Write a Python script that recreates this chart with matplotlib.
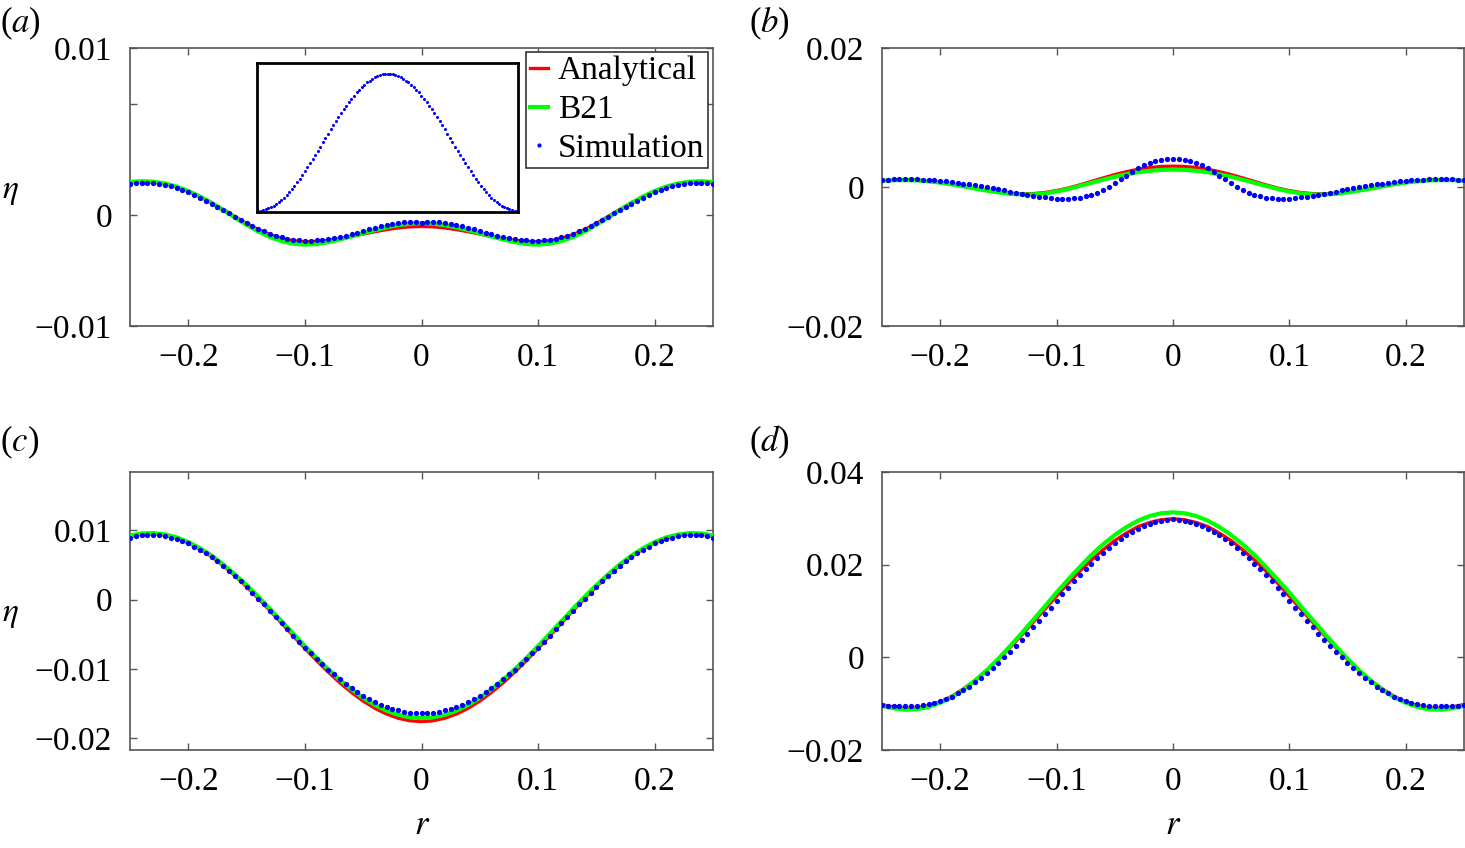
import numpy as np
import matplotlib
matplotlib.use("Agg")
import matplotlib.pyplot as plt

plt.rcParams['font.family'] = ['Liberation Serif', 'DejaVu Serif']
plt.rcParams['mathtext.fontset'] = 'stix'

# r grids (lines every 0.01, simulation every 0.005)
r_line = np.linspace(-0.25, 0.25, 51)
r_sim = np.linspace(-0.25, 0.25, 101)

# values below are in units of 1e-3
a_red = [2.95, 3.00, 2.95, 2.78, 2.50, 2.12, 1.64, 1.08, 0.47, -0.16, -0.77, -1.32, -1.78, -2.12, -2.33, -2.42, -2.40, -2.30, -2.13, -1.94, -1.73, -1.52, -1.33, -1.18, -1.08,
         -1.05,
         -1.08, -1.18, -1.33, -1.52, -1.73, -1.94, -2.13, -2.30, -2.40, -2.42, -2.33, -2.12, -1.78, -1.32, -0.77, -0.16, 0.47, 1.08, 1.64, 2.12, 2.50, 2.78, 2.95, 3.00, 2.95]
a_green = [2.95, 3.02, 2.98, 2.82, 2.54, 2.14, 1.64, 1.06, 0.42, -0.25, -0.90, -1.50, -2.00, -2.37, -2.60, -2.68, -2.63, -2.46, -2.22, -1.95, -1.66, -1.38, -1.13, -0.93, -0.80,
           -0.75,
           -0.80, -0.93, -1.13, -1.38, -1.66, -1.95, -2.22, -2.46, -2.63, -2.68, -2.60, -2.37, -2.00, -1.50, -0.90, -0.25, 0.42, 1.06, 1.64, 2.14, 2.54, 2.82, 2.98, 3.02, 2.95]
a_sim = [2.76, 2.82, 2.86, 2.88, 2.86, 2.80, 2.70, 2.57, 2.42, 2.23, 2.03, 1.80, 1.55, 1.28, 1.00, 0.72, 0.42, 0.12, -0.18, -0.47,
         -0.75, -1.02, -1.27, -1.50, -1.70, -1.88, -2.03, -2.15, -2.24, -2.30, -2.32, -2.32, -2.30, -2.26, -2.20, -2.12, -2.02, -1.90, -1.75, -1.60,
         -1.45, -1.30, -1.15, -1.02, -0.92, -0.82, -0.75, -0.68, -0.62, -0.65,
         -0.70,
         -0.65, -0.62, -0.68, -0.75, -0.82, -0.92, -1.02, -1.15, -1.30, -1.45, -1.60, -1.75, -1.90, -2.02, -2.12, -2.20, -2.26, -2.30, -2.32, -2.32,
         -2.30, -2.24, -2.15, -2.03, -1.88, -1.70, -1.50, -1.27, -1.02, -0.75, -0.47, -0.18, 0.12, 0.42, 0.72, 1.00, 1.28, 1.55, 1.80, 2.03,
         2.23, 2.42, 2.57, 2.70, 2.80, 2.86, 2.88, 2.86, 2.82, 2.76]

b_red = [0.90, 1.00, 1.03, 0.98, 0.85, 0.65, 0.40, 0.10, -0.20, -0.48, -0.72, -0.90, -0.98, -0.95, -0.80, -0.52, -0.15, 0.30, 0.80, 1.30, 1.78, 2.20, 2.55, 2.80, 2.95,
         3.00,
         2.95, 2.80, 2.55, 2.20, 1.78, 1.30, 0.80, 0.30, -0.15, -0.52, -0.80, -0.95, -0.98, -0.90, -0.72, -0.48, -0.20, 0.10, 0.40, 0.65, 0.85, 0.98, 1.03, 1.00, 0.90]
b_green = [0.90, 0.98, 1.00, 0.95, 0.82, 0.63, 0.38, 0.09, -0.22, -0.52, -0.78, -0.98, -1.08, -1.07, -0.92, -0.65, -0.28, 0.15, 0.60, 1.05, 1.47, 1.83, 2.12, 2.33, 2.46,
           2.50,
           2.46, 2.33, 2.12, 1.83, 1.47, 1.05, 0.60, 0.15, -0.28, -0.65, -0.92, -1.07, -1.08, -0.98, -0.78, -0.52, -0.22, 0.09, 0.38, 0.63, 0.82, 0.95, 1.00, 0.98, 0.90]
b_sim = [1.02, 1.06, 1.09, 1.11, 1.12, 1.12, 1.10, 1.07, 1.02, 0.95, 0.88, 0.80, 0.70, 0.60, 0.48, 0.36, 0.23, 0.10, -0.05, -0.20,
         -0.35, -0.50, -0.65, -0.80, -0.95, -1.10, -1.25, -1.38, -1.50, -1.60, -1.67, -1.70, -1.68, -1.63, -1.52, -1.35, -1.10, -0.80, -0.40, 0.05,
         0.55, 1.10, 1.65, 2.20, 2.72, 3.15, 3.50, 3.75, 3.90, 3.98,
         4.00,
         3.98, 3.90, 3.75, 3.50, 3.15, 2.72, 2.20, 1.65, 1.10, 0.55, 0.05, -0.40, -0.80, -1.10, -1.35, -1.52, -1.63, -1.68, -1.70, -1.67,
         -1.60, -1.50, -1.38, -1.25, -1.10, -0.95, -0.80, -0.65, -0.50, -0.35, -0.20, -0.05, 0.10, 0.23, 0.36, 0.48, 0.60, 0.70, 0.80, 0.88,
         0.95, 1.02, 1.07, 1.10, 1.12, 1.12, 1.11, 1.09, 1.06, 1.02]

c_red = [9.10, 9.44, 9.49, 9.29, 8.86, 8.19, 7.28, 6.18, 4.89, 3.44, 1.86, 0.17, -1.60, -3.41, -5.24, -7.04, -8.79, -10.45, -12.01, -13.40, -14.64, -15.68, -16.51, -17.11, -17.48,
         -17.60,
         -17.48, -17.11, -16.51, -15.68, -14.64, -13.40, -12.01, -10.45, -8.79, -7.04, -5.24, -3.41, -1.60, 0.17, 1.86, 3.44, 4.89, 6.18, 7.28, 8.19, 8.86, 9.29, 9.49, 9.44, 9.10]
c_green = [9.25, 9.54, 9.59, 9.39, 8.97, 8.30, 7.41, 6.33, 5.06, 3.63, 2.07, 0.41, -1.33, -3.12, -4.92, -6.70, -8.42, -10.05, -11.59, -12.96, -14.18, -15.20, -16.02, -16.62, -16.98,
           -17.10,
           -16.98, -16.62, -16.02, -15.20, -14.18, -12.96, -11.59, -10.05, -8.42, -6.70, -4.92, -3.12, -1.33, 0.41, 2.07, 3.63, 5.06, 6.33, 7.41, 8.30, 8.97, 9.39, 9.59, 9.54, 9.25]
c_sim = [8.90, 9.15, 9.30, 9.35, 9.35, 9.25, 9.15, 8.95, 8.75, 8.45, 8.10, 7.65, 7.20, 6.65, 6.10, 5.50, 4.85, 4.15, 3.40, 2.65,
         1.85, 1.00, 0.15, -0.70, -1.60, -2.50, -3.40, -4.30, -5.20, -6.10, -6.95, -7.75, -8.60, -9.35, -10.10, -10.80, -11.50, -12.15, -12.80, -13.35,
         -13.90, -14.35, -14.80, -15.15, -15.50, -15.75, -16.00, -16.15, -16.30, -16.35,
         -16.40,
         -16.35, -16.30, -16.15, -16.00, -15.75, -15.50, -15.15, -14.80, -14.35, -13.90, -13.35, -12.80, -12.15, -11.50, -10.80, -10.10, -9.35, -8.60, -7.75, -6.95,
         -6.10, -5.20, -4.30, -3.40, -2.50, -1.60, -0.70, 0.15, 1.00, 1.85, 2.65, 3.40, 4.15, 4.85, 5.50, 6.10, 6.65, 7.20, 7.65, 8.10,
         8.45, 8.75, 8.95, 9.15, 9.25, 9.35, 9.35, 9.30, 9.15, 8.90]

d_red = [-10.20, -10.70, -11.00, -10.90, -10.40, -9.60, -8.40, -6.80, -4.97, -2.80, -0.45, 2.10, 4.80, 7.60, 10.40, 13.20, 16.00, 18.60, 21.00, 23.20, 25.20, 26.80, 28.20, 29.10, 29.70,
         29.90,
         29.70, 29.10, 28.20, 26.80, 25.20, 23.20, 21.00, 18.60, 16.00, 13.20, 10.40, 7.60, 4.80, 2.10, -0.45, -2.80, -4.97, -6.80, -8.40, -9.60, -10.40, -10.90, -11.00, -10.70, -10.20]
d_green = [-10.50, -11.00, -11.30, -11.20, -10.70, -9.80, -8.60, -7.00, -5.00, -2.80, -0.30, 2.40, 5.20, 8.10, 11.00, 14.00, 16.80, 19.50, 22.10, 24.40, 26.40, 28.10, 29.50, 30.50, 31.10,
           31.30,
           31.10, 30.50, 29.50, 28.10, 26.40, 24.40, 22.10, 19.50, 16.80, 14.00, 11.00, 8.10, 5.20, 2.40, -0.30, -2.80, -5.00, -7.00, -8.60, -9.80, -10.70, -11.20, -11.30, -11.00, -10.50]
d_sim = [-10.30, -10.40, -10.40, -10.50, -10.50, -10.50, -10.40, -10.30, -10.10, -9.80, -9.50, -9.00, -8.50, -7.80, -7.10, -6.30, -5.40, -4.40, -3.40, -2.30,
         -1.20, 0.00, 1.20, 2.50, 3.80, 5.10, 6.50, 7.90, 9.30, 10.70, 12.10, 13.60, 15.00, 16.40, 17.70, 19.00, 20.20, 21.40, 22.60, 23.60,
         24.60, 25.50, 26.30, 27.10, 27.80, 28.30, 28.80, 29.20, 29.50, 29.70,
         29.80,
         29.70, 29.50, 29.20, 28.80, 28.30, 27.80, 27.10, 26.30, 25.50, 24.60, 23.60, 22.60, 21.40, 20.20, 19.00, 17.70, 16.40, 15.00, 13.60, 12.10,
         10.70, 9.30, 7.90, 6.50, 5.10, 3.80, 2.50, 1.20, 0.00, -1.20, -2.30, -3.40, -4.40, -5.40, -6.30, -7.10, -7.80, -8.50, -9.00, -9.50,
         -9.80, -10.10, -10.30, -10.40, -10.50, -10.50, -10.50, -10.40, -10.40, -10.30]

# inset profile of panel (a), normalised
inset_sim = [0.000, 0.001, 0.004, 0.009, 0.016, 0.024, 0.035, 0.048, 0.062, 0.078, 0.095, 0.115, 0.136, 0.158, 0.181, 0.206, 0.232, 0.259, 0.287, 0.316,
             0.345, 0.376, 0.406, 0.437, 0.469, 0.500, 0.531, 0.563, 0.594, 0.624, 0.655, 0.684, 0.713, 0.741, 0.768, 0.794, 0.819, 0.842, 0.865, 0.885,
             0.905, 0.922, 0.938, 0.952, 0.965, 0.976, 0.984, 0.991, 0.996, 0.999,
             1.000,
             0.999, 0.996, 0.991, 0.984, 0.976, 0.965, 0.952, 0.938, 0.922, 0.905, 0.885, 0.865, 0.842, 0.819, 0.794, 0.768, 0.741, 0.713, 0.684, 0.655,
             0.624, 0.594, 0.563, 0.531, 0.500, 0.469, 0.437, 0.406, 0.376, 0.345, 0.316, 0.287, 0.259, 0.232, 0.206, 0.181, 0.158, 0.136, 0.115, 0.095,
             0.078, 0.062, 0.048, 0.035, 0.024, 0.016, 0.009, 0.004, 0.001, 0.000]

xticks = [-0.2, -0.1, 0, 0.1, 0.2]
xticklabels = ['\u22120.2', '\u22120.1', '0', '0.1', '0.2']

FS = 24
SPINE = '#555555'

fig = plt.figure(figsize=(14.65, 8.48), dpi=100)
w, h = 583 / 1465, 278 / 848
ax_a = fig.add_axes([130 / 1465, 1 - 326 / 848, w, h])
ax_b = fig.add_axes([882 / 1465, 1 - 326 / 848, w * 0.998, h])
ax_c = fig.add_axes([130 / 1465, 1 - 750 / 848, w, h])
ax_d = fig.add_axes([882 / 1465, 1 - 750 / 848, w * 0.998, h])

panels = [
    (ax_a, a_red, a_green, a_sim, (-0.01, 0.015), [-0.01, 0, 0.01, 0.015], ['\u22120.01', '0', '', '0.01']),
    (ax_b, b_red, b_green, b_sim, (-0.02, 0.02), [-0.02, 0, 0.02], ['\u22120.02', '0', '0.02']),
    (ax_c, c_red, c_green, c_sim, (-0.0217, 0.0184), [-0.02, -0.01, 0, 0.01], ['\u22120.02', '\u22120.01', '0', '0.01']),
    (ax_d, d_red, d_green, d_sim, (-0.02, 0.04), [-0.02, 0, 0.02, 0.04], ['\u22120.02', '0', '0.02', '0.04']),
]

for ax, red, green, sim, ylim, yt, ytl in panels:
    ax.plot(r_line, np.array(red) * 1e-3, color='#ff0000', lw=2.4, label='Analytical', zorder=2)
    ax.plot(r_line, np.array(green) * 1e-3, color='#00ff00', lw=3.0, label='B21', zorder=3)
    ax.plot(r_sim, np.array(sim) * 1e-3, 'o', color='#0000ff', ms=3.8, mew=0,
            label='Simulation', zorder=4)
    ax.set_xlim(-0.25, 0.25)
    ax.set_ylim(*ylim)
    ax.set_xticks(xticks)
    ax.set_xticklabels(xticklabels)
    ax.set_yticks(yt)
    ax.set_yticklabels(ytl)
    ax.tick_params(direction='in', top=True, right=True, length=5, width=1.0,
                   color=SPINE, labelsize=FS)
    ax.tick_params(axis='x', pad=12)
    ax.tick_params(axis='y', pad=13)
    for s in ax.spines.values():
        s.set_color(SPINE)
        s.set_linewidth(1.2)

# legend in (a)
leg = ax_a.legend(loc='upper right', bbox_to_anchor=(0.992, 0.986), fontsize=FS,
                  frameon=True, fancybox=False, edgecolor='#333333', framealpha=1,
                  borderpad=0.12, handlelength=0.55, handletextpad=0.3,
                  labelspacing=0.25, borderaxespad=0, numpoints=1, markerscale=0.8)
leg.get_frame().set_linewidth(1.2)

# inset in (a)
ins = ax_a.inset_axes([0.218, 0.41, 0.448, 0.536])
ins.plot(r_sim, inset_sim, 'o', color='#0000ff', ms=2.2, mew=0)
ins.set_xlim(-0.252, 0.252)
ins.set_ylim(-0.01, 1.08)
ins.set_xticks([])
ins.set_yticks([])
for s in ins.spines.values():
    s.set_color('black')
    s.set_linewidth(2.0)

# panel letters and axis symbols
for x, y, letter in [(0.0, 0.995, 'a'), (0.511, 0.995, 'b'),
                     (0.0, 0.5, 'c'), (0.511, 0.5, 'd')]:
    fig.text(x, y, '($' + letter + '$)', fontsize=FS + 1, ha='left', va='top')

fig.text(0.0068, 0.774, r'$\eta$', fontsize=FS, ha='center', va='center')
fig.text(0.0068, 0.275, r'$\eta$', fontsize=FS, ha='center', va='center')
fig.text(0.288, 0.027, r'$r$', fontsize=FS + 1, ha='center', va='center')
fig.text(0.8007, 0.027, r'$r$', fontsize=FS + 1, ha='center', va='center')

fig.savefig('out.png', dpi=100)
